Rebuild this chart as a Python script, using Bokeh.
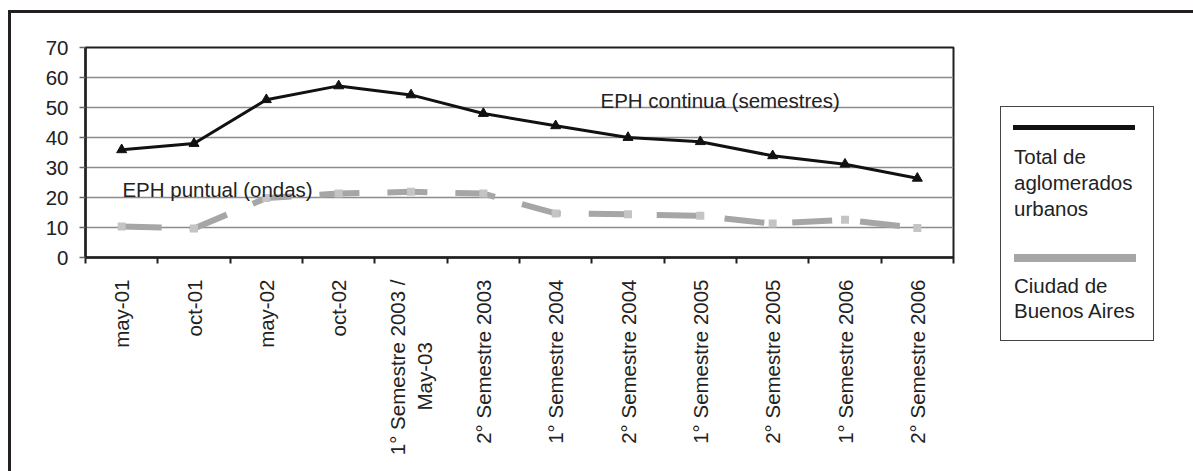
import numpy as np
from bokeh.plotting import figure
from bokeh.layouts import row
from bokeh.models import Range1d, FixedTicker, Label, Div
from bokeh.embed import file_html
from bokeh.resources import INLINE

# ---- data ----
categories = [
    "may-01", "oct-01", "may-02", "oct-02",
    "1° Semestre 2003 /\nMay-03",
    "2° Semestre 2003", "1° Semestre 2004", "2° Semestre 2004",
    "1° Semestre 2005", "2° Semestre 2005", "1° Semestre 2006", "2° Semestre 2006",
]
total_aglomerados = [35.9, 38.0, 52.6, 57.2, 54.2, 48.0, 43.9, 40.0, 38.6, 33.9, 31.1, 26.4]
ciudad_bsas = [10.3, 9.7, 19.8, 21.3, 21.9, 21.3, 14.7, 14.4, 13.9, 11.3, 12.6, 9.8]
y_ticks = [0, 10, 20, 30, 40, 50, 60, 70]
legend_total = ["Total de", "aglomerados", "urbanos"]
legend_ciudad = ["Ciudad de", "Buenos Aires"]
note_puntual = "EPH puntual (ondas)"
note_continua = "EPH continua (semestres)"

FONT = "Liberation Sans"
FS = "20.5px"
TXT = "#222222"
DARK = "#231f20"
GRAY = "#a6a6a6"

n = len(categories)
xs = np.arange(n) + 0.5


def centre_lines(label):
    # rotated multi-line tick labels are end-aligned; pad the shorter line so it sits centred
    parts = label.split("\n")
    if len(parts) == 1:
        return label
    longest = max(len(s) for s in parts)
    out = [parts[0]] + [s + "\u00a0" * int(round((longest - len(s)) * 0.9)) for s in parts[1:]]
    return "\n".join(out)


tick_text = [centre_lines(c) for c in categories]

# page offsets caused by the outer frame (margin + border)
OX, OY = 11, 13
H = 471 - OY
W_MAIN = 980 - OX
W_LEG = 1193 - 980

p = figure(width=W_MAIN, height=H, output_backend="svg", toolbar_location=None,
           x_range=Range1d(0, n), y_range=Range1d(0, 70),
           min_border_left=85 - OX, min_border_right=980 - 953,
           min_border_top=47 - OY, min_border_bottom=471 - 257)
p.background_fill_color = "white"
p.border_fill_color = "white"
p.outline_line_color = DARK
p.outline_line_width = 2

# x axis: labels at centres, ticks at boundaries
xax = p.xaxis[0]
xax.ticker = FixedTicker(ticks=[float(v) for v in xs], minor_ticks=list(range(n + 1)))
xax.major_label_overrides = {float(v): c for v, c in zip(xs, tick_text)}
xax.major_label_orientation = np.pi / 2
xax.major_tick_out = 0
xax.major_tick_in = 0
xax.minor_tick_out = 6
xax.minor_tick_in = 0
xax.minor_tick_line_color = DARK
xax.minor_tick_line_width = 2
xax.axis_line_color = DARK
xax.axis_line_width = 2.5
xax.major_label_standoff = 16
xax.major_label_text_font = FONT
xax.major_label_text_font_size = FS
xax.major_label_text_color = TXT

yax = p.yaxis[0]
yax.ticker = FixedTicker(ticks=y_ticks)
yax.major_tick_out = 6
yax.major_tick_in = 0
yax.minor_tick_line_color = None
yax.major_tick_line_color = "#666666"
yax.major_tick_line_width = 1.5
yax.axis_line_color = DARK
yax.axis_line_width = 2.5
yax.major_label_standoff = 11
yax.major_label_text_font = FONT
yax.major_label_text_font_size = FS
yax.major_label_text_color = TXT

p.xgrid.visible = False
p.ygrid.ticker = FixedTicker(ticks=y_ticks)
p.ygrid.grid_line_color = "#8c8c8c"
p.ygrid.grid_line_width = 1.5

# series
p.line(xs, ciudad_bsas, line_color=GRAY, line_width=6, line_dash="40 28")
p.scatter(xs, ciudad_bsas, marker="square", size=8, fill_color="#c4c4c4", line_color=None)
p.line(xs, total_aglomerados, line_color="#111111", line_width=3, line_join="round")
p.scatter(xs, total_aglomerados, marker="triangle", size=10,
          fill_color="#111111", line_color="#111111")

# in-plot notes
p.add_layout(Label(x=0.51, y=22.6, text=note_puntual, text_font=FONT, text_font_size=FS,
                   text_color=TXT, text_baseline="alphabetic"))
p.add_layout(Label(x=7.12, y=52.5, text=note_continua, text_font=FONT, text_font_size=FS,
                   text_color=TXT, text_baseline="alphabetic"))

# ---- legend panel (HTML, positioned in page px relative to panel origin) ----
X0, Y0 = 980, OY


def abs_div(left, top, width, height, extra):
    return (f'<div style="position:absolute;left:{left - X0}px;top:{top - Y0}px;'
            f'width:{width}px;height:{height}px;{extra}"></div>')


def text_block(left, top, lines, lh):
    inner = "<br>".join(lines)
    return (f'<div style="position:absolute;left:{left - X0}px;top:{top - Y0}px;'
            f'font-family:\'{FONT}\';font-size:{FS};line-height:{lh}px;color:{TXT};'
            f'white-space:nowrap;">{inner}</div>')


html = (f'<div style="position:relative;width:{W_LEG}px;height:{H}px;background:white;">'
        + abs_div(1000, 106, 154, 235, "box-sizing:border-box;border:1.5px solid #444444;")
        + abs_div(1013, 124.5, 122, 5, "background:#111111;")
        + text_block(1014, 144.4, legend_total, 26)
        + abs_div(1014, 254, 122, 8, f"background:{GRAY};")
        + text_block(1014, 273.4, legend_ciudad, 25)
        + '</div>')

legend_div = Div(text=html, width=W_LEG, height=H, styles={"margin": "0", "padding": "0"})

layout = row(p, legend_div, spacing=0,
             styles={"margin-left": "8px", "margin-top": "10px",
                     "border-left": "3px solid #231f20", "border-top": "3px solid #231f20"})

open("out.html", "w").write(file_html(layout, INLINE))
